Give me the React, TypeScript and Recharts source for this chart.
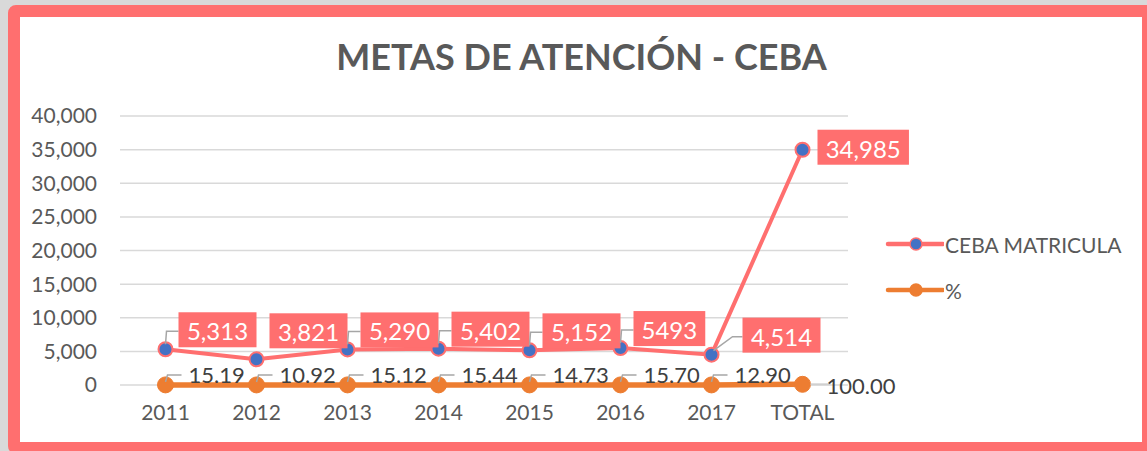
import React from "react";
import {
  ComposedChart,
  Line,
  XAxis,
  YAxis,
  CartesianGrid,
  LabelList,
} from "recharts";

const years = ["2011", "2012", "2013", "2014", "2015", "2016", "2017", "TOTAL"];
const matricula = [5313, 3821, 5290, 5402, 5152, 5493, 4514, 34985];
const matriculaLabels = ["5,313", "3,821", "5,290", "5,402", "5,152", "5493", "4,514", "34,985"];
const percent = [15.19, 10.92, 15.12, 15.44, 14.73, 15.7, 12.9, 100.0];
const yTicks = [0, 5000, 10000, 15000, 20000, 25000, 30000, 35000, 40000];
const seriesNames = ["CEBA MATRICULA", "%"];

const RED = "#FF6F6F";
const BLUE = "#4472C4";
const ORANGE = "#ED7D31";
const TEXT = "#595959";
const LEADER = "#A6A6A6";
const FONT = "Lato, 'Open Sans', sans-serif";

const data = years.map((year, i) => ({
  year,
  matricula: matricula[i],
  pct: percent[i],
}));

// rough text width for the label boxes
const textWidth = (s: string, size: number) =>
  s.split("").reduce((w, c) => w + (c === "," || c === "." ? 0.26 : 0.56) * size, 0);

const MatriculaLabel = (props: any) => {
  const { x, y, index } = props;
  const text = matriculaLabels[index];
  const last = index === years.length - 1;
  const w = textWidth(text, 24) + 18;
  const h = 35;
  let left = x + 13;
  let top = index === 1 ? y - 46 : y - 37;
  let leader = `M${x},${y - 5} L${x + 1},${y - 18} L${left},${y - 18}`;
  if (index === 1) leader = "";
  if (index === 6) {
    left = x + 31;
    leader = `M${x + 2},${y - 4} L${x + 21},${y - 18} L${left},${y - 18}`;
  }
  if (last) {
    left = x + 15;
    top = y - 20;
    leader = "";
  }
  return (
    <g>
      {leader && <path d={leader} stroke={LEADER} strokeWidth={1.5} fill="none" />}
      <rect x={left} y={top} width={w} height={h} fill={RED} />
      <text
        x={left + w / 2}
        y={top + h / 2 + 1}
        textAnchor="middle"
        dominantBaseline="central"
        fill="#ffffff"
        fontSize={24}
        fontFamily={FONT}
      >
        {text}
      </text>
    </g>
  );
};

const PercentLabel = (props: any) => {
  const { x, y, index } = props;
  const text = percent[index].toFixed(2);
  const last = index === years.length - 1;
  if (last) {
    return (
      <g>
        <path d={`M${x + 8},${y} L${x + 28},${y}`} stroke="#D0D0D0" strokeWidth={2} fill="none" />
        <text x={x + 24} y={y + 1} dominantBaseline="central" fill="#404040" fontSize={22} fontFamily={FONT}>
          {text}
        </text>
      </g>
    );
  }
  return (
    <g>
      <path
        d={`M${x},${y - 3} L${x + 2},${y - 10} L${x + 16},${y - 10}`}
        stroke={LEADER}
        strokeWidth={1.5}
        fill="none"
      />
      <text x={x + 23} y={y - 10} dominantBaseline="central" fill="#404040" fontSize={22} fontFamily={FONT}>
        {text}
      </text>
    </g>
  );
};

const LegendBox = () => (
  <div style={{ position: "absolute", left: 885, top: 221, fontFamily: FONT }}>
    {seriesNames.map((name, i) => {
      const lineColor = i === 0 ? RED : ORANGE;
      const dotColor = i === 0 ? BLUE : ORANGE;
      return (
        <div key={name} style={{ display: "flex", alignItems: "center", height: 46 }}>
          <svg width={59} height={20}>
            <line x1={3} y1={10} x2={58} y2={10} stroke={lineColor} strokeWidth={4.5} strokeLinecap="round" />
            <circle cx={31} cy={10} r={6} fill={dotColor} stroke={lineColor} strokeWidth={1.5} />
          </svg>
          <span style={{ fontSize: 21, color: TEXT, marginLeft: 1 }}>{name}</span>
        </div>
      );
    })}
  </div>
);

export default function App() {
  return (
    <div
      style={{
        position: "fixed",
        left: 0,
        top: 0,
        width: 1147,
        height: 451,
        background: "#D9D9D9",
        overflow: "hidden",
      }}
    >
      <div
        style={{
          position: "absolute",
          left: 8,
          top: 5,
          width: 1146,
          height: 449,
          boxSizing: "border-box",
          border: `12px solid ${RED}`,
          borderRadius: 8,
          background: "#ffffff",
        }}
      />
      <div
        style={{
          position: "absolute",
          left: 0,
          top: 34,
          width: 1163,
          textAlign: "center",
          fontFamily: FONT,
          fontWeight: 700,
          fontSize: 36,
          color: TEXT,
        }}
      >
        METAS DE ATENCIÓN - CEBA
      </div>
      <div style={{ position: "absolute", left: 0, top: 0 }}>
        <ComposedChart
          width={1147}
          height={451}
          data={data}
          margin={{ top: 116, right: 299, left: 20, bottom: 36 }}
        >
          <CartesianGrid vertical={false} stroke="#D9D9D9" strokeWidth={1.5} />
          <XAxis
            dataKey="year"
            scale="band"
            tickLine={false}
            axisLine={false}
            tickSize={0}
            tickMargin={20}
            height={30}
            interval={0}
            tick={{ fill: TEXT, fontSize: 21, fontFamily: FONT }}
          />
          <YAxis
            domain={[0, 40000]}
            ticks={yTicks}
            width={100}
            tickLine={false}
            axisLine={false}
            tickSize={0}
            tickMargin={23}
            tickFormatter={(v: number) => v.toLocaleString("en-US")}
            tick={{ fill: TEXT, fontSize: 21, fontFamily: FONT }}
          />
          <Line
            type="linear"
            dataKey="matricula"
            name={seriesNames[0]}
            stroke={RED}
            strokeWidth={4}
            dot={{ r: 7, fill: BLUE, stroke: RED, strokeWidth: 2 }}
            activeDot={false}
            isAnimationActive={false}
          >
            <LabelList dataKey="matricula" content={MatriculaLabel} />
          </Line>
          <Line
            type="linear"
            dataKey="pct"
            name={seriesNames[1]}
            stroke={ORANGE}
            strokeWidth={5.5}
            dot={{ r: 8, fill: ORANGE, stroke: ORANGE, strokeWidth: 1 }}
            activeDot={false}
            isAnimationActive={false}
          >
            <LabelList dataKey="pct" content={PercentLabel} />
          </Line>
        </ComposedChart>
      </div>
      <LegendBox />
    </div>
  );
}
